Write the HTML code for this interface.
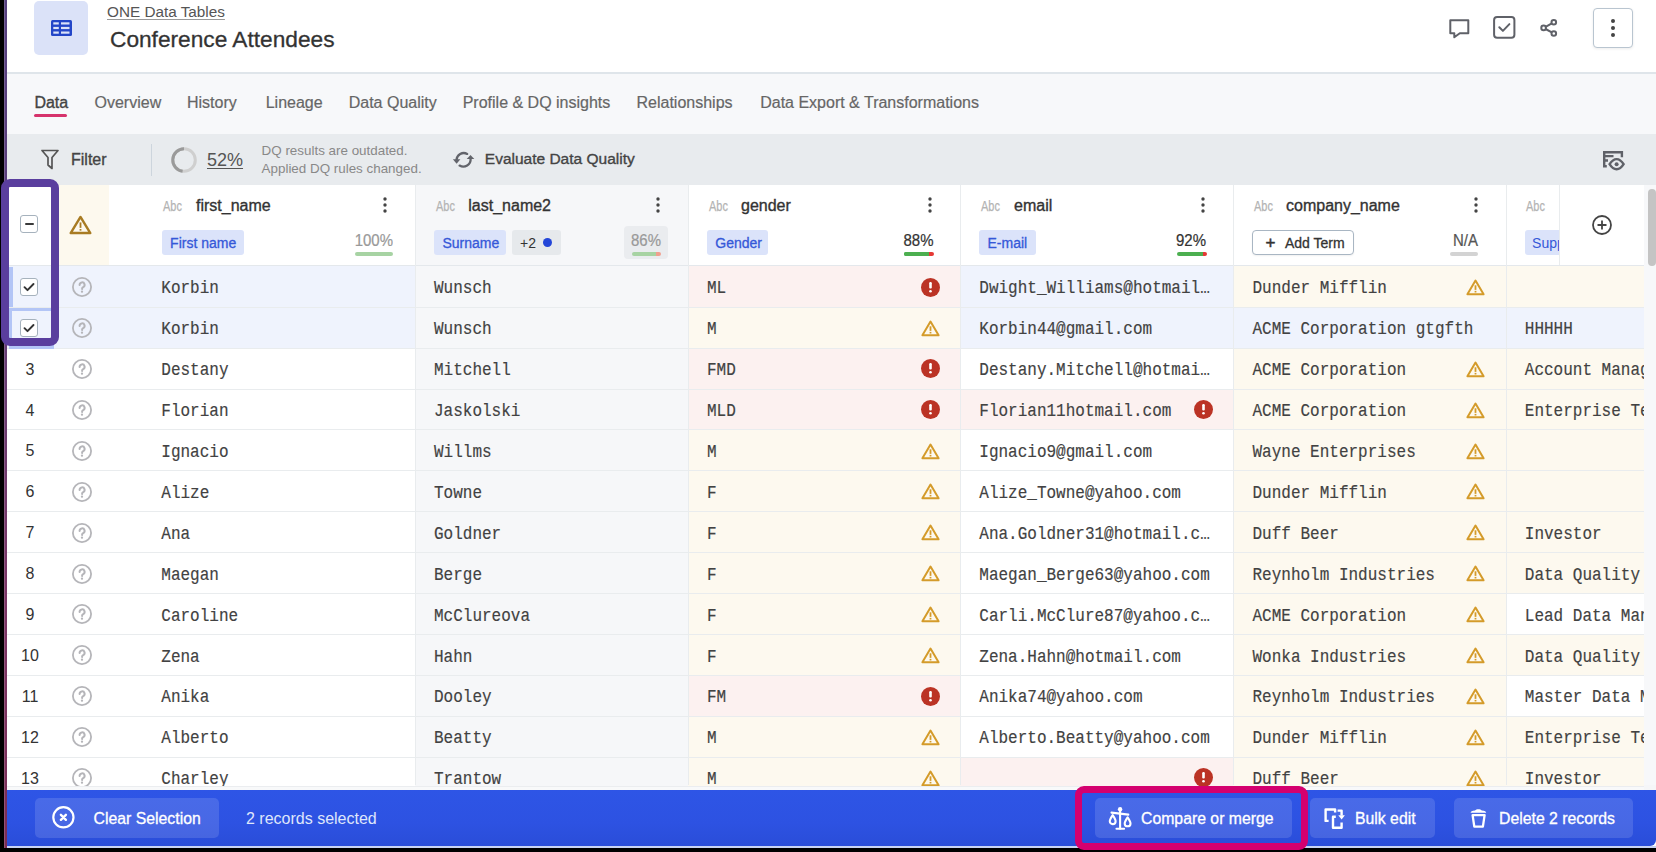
<!DOCTYPE html><html><head><meta charset="utf-8"><style>
*{margin:0;padding:0;box-sizing:border-box}
html,body{width:1656px;height:852px;overflow:hidden;background:#fff;font-family:'Liberation Sans', sans-serif}
.t{position:absolute;white-space:nowrap}
.r{position:absolute}
svg{position:absolute;overflow:visible}
</style></head><body><div class="r" style="left:0px;top:0px;width:1656px;height:72px;background:#fff"></div>
<div class="r" style="left:34px;top:1px;width:54px;height:54px;background:#dbe2f8;border-radius:5px"></div>
<svg style="left:51px;top:20px" width="21" height="16" viewBox="0 0 21 16"><rect x="0" y="0" width="21" height="16" rx="1.5" fill="#2346c8"/><g fill="#dbe2f8"><rect x="2.3" y="2.3" width="5.5" height="2.2"/><rect x="10" y="2.3" width="8.5" height="2.2"/><rect x="2.3" y="6.9" width="5.5" height="2.2"/><rect x="10" y="6.9" width="8.5" height="2.2"/><rect x="2.3" y="11.5" width="5.5" height="2.2"/><rect x="10" y="11.5" width="8.5" height="2.2"/></g></svg>
<div class="t" style="left:107px;top:4.27px;font-size:15.3px;line-height:15.3px;color:#555;font-weight:normal;font-family:'Liberation Sans', sans-serif;text-decoration:underline;text-decoration-color:#999;text-underline-offset:2px">ONE Data Tables</div>
<div class="t" style="left:110px;top:27.86px;font-size:22.7px;line-height:22.7px;color:#333;font-weight:normal;font-family:'Liberation Sans', sans-serif;-webkit-text-stroke:.3px #333">Conference Attendees</div>
<svg style="left:1448px;top:18px" width="22" height="22" viewBox="0 0 22 22"><path d="M2.3 2.3h18v13h-8.5l-5.5 4v-4h-4z" fill="none" stroke="#5f6168" stroke-width="2" stroke-linejoin="round"/></svg>
<svg style="left:1493px;top:16px" width="23" height="23" viewBox="0 0 23 23"><rect x="1.1" y="1.1" width="20.3" height="20.6" rx="3" fill="none" stroke="#5f6168" stroke-width="2"/><path d="M6.3 11.3l3.6 3.6 6.5-6.8" fill="none" stroke="#5f6168" stroke-width="2" stroke-linecap="round" stroke-linejoin="round"/></svg>
<svg style="left:1540px;top:18px" width="20" height="22" viewBox="0 0 20 22"><g fill="none" stroke="#5f6168" stroke-width="2"><circle cx="13.8" cy="4.2" r="2.3"/><circle cx="3.6" cy="9.9" r="2.3"/><circle cx="13.8" cy="15.5" r="2.3"/><path d="M5.6 8.8l6.2-3.5M5.6 11l6.2 3.4"/></g></svg>
<div class="r" style="left:1593px;top:8px;width:40px;height:40px;border:1.5px solid #b9c5d0;border-radius:4px;background:#fff;box-shadow:0 1px 3px rgba(0,0,0,.08)"></div>
<svg style="left:1610px;top:18px" width="6" height="20" viewBox="0 0 6 20"><g fill="#444"><circle cx="3" cy="3" r="2"/><circle cx="3" cy="10" r="2"/><circle cx="3" cy="17" r="2"/></g></svg>
<div class="r" style="left:0px;top:72px;width:1656px;height:2px;background:#dfe5ea"></div>
<div class="r" style="left:0px;top:74px;width:1656px;height:60px;background:#f7f8fa"></div>
<div class="t" style="left:34.4px;top:95.20px;font-size:16px;line-height:16px;color:#444;font-weight:normal;font-family:'Liberation Sans', sans-serif;-webkit-text-stroke:.35px #444">Data</div>
<div class="t" style="left:94.5px;top:95.20px;font-size:16px;line-height:16px;color:#666;font-weight:normal;font-family:'Liberation Sans', sans-serif;-webkit-text-stroke:.2px #666">Overview</div>
<div class="t" style="left:187px;top:95.20px;font-size:16px;line-height:16px;color:#666;font-weight:normal;font-family:'Liberation Sans', sans-serif;-webkit-text-stroke:.2px #666">History</div>
<div class="t" style="left:265.7px;top:95.20px;font-size:16px;line-height:16px;color:#666;font-weight:normal;font-family:'Liberation Sans', sans-serif;-webkit-text-stroke:.2px #666">Lineage</div>
<div class="t" style="left:348.7px;top:95.20px;font-size:16px;line-height:16px;color:#666;font-weight:normal;font-family:'Liberation Sans', sans-serif;-webkit-text-stroke:.2px #666">Data Quality</div>
<div class="t" style="left:462.7px;top:95.20px;font-size:16px;line-height:16px;color:#666;font-weight:normal;font-family:'Liberation Sans', sans-serif;-webkit-text-stroke:.2px #666">Profile &amp; DQ insights</div>
<div class="t" style="left:636.5px;top:95.20px;font-size:16px;line-height:16px;color:#666;font-weight:normal;font-family:'Liberation Sans', sans-serif;-webkit-text-stroke:.2px #666">Relationships</div>
<div class="t" style="left:760.2px;top:95.20px;font-size:16px;line-height:16px;color:#666;font-weight:normal;font-family:'Liberation Sans', sans-serif;-webkit-text-stroke:.2px #666">Data Export &amp; Transformations</div>
<div class="r" style="left:34px;top:114px;width:33px;height:2.5px;background:#d6336c;border-radius:2px"></div>
<div class="r" style="left:0px;top:134px;width:1656px;height:51px;background:#e8ebee"></div>
<svg style="left:41px;top:149px" width="18" height="21" viewBox="0 0 18 21"><path d="M1 1.5h16l-6 7v11l-4-3.5v-7.5z" fill="none" stroke="#555" stroke-width="1.7" stroke-linejoin="round"/></svg>
<div class="t" style="left:71px;top:152.20px;font-size:16px;line-height:16px;color:#444;font-weight:normal;font-family:'Liberation Sans', sans-serif;-webkit-text-stroke:.35px #444">Filter</div>
<div class="r" style="left:151px;top:144px;width:1.2px;height:32px;background:#cdd5dd"></div>
<svg style="left:171px;top:147px" width="26" height="26" viewBox="0 0 26 26"><circle cx="13" cy="13" r="11.3" fill="none" stroke="#cfcfcf" stroke-width="3"/><path d="M13 1.7 A11.3 11.3 0 0 0 11.6 24.2" fill="none" stroke="#9a9a9a" stroke-width="3"/></svg>
<div class="t" style="left:207px;top:151.28px;font-size:18px;line-height:18px;color:#555;font-weight:normal;font-family:'Liberation Sans', sans-serif;text-decoration:underline;text-underline-offset:2px">52%</div>
<div class="t" style="left:261.6px;top:143.81px;font-size:13.4px;line-height:13.4px;color:#888;font-weight:normal;font-family:'Liberation Sans', sans-serif;">DQ results are outdated.</div>
<div class="t" style="left:261.6px;top:161.91px;font-size:13.4px;line-height:13.4px;color:#888;font-weight:normal;font-family:'Liberation Sans', sans-serif;">Applied DQ rules changed.</div>
<svg style="left:448px;top:145px" width="32" height="28" viewBox="0 0 32 28"><g fill="none" stroke="#62646b" stroke-width="2.3" stroke-linecap="round"><path d="M19.2 8.9A7.3 7.3 0 0 0 8.5 15"/><path d="M11.6 20.6A7.3 7.3 0 0 0 22.6 13.8"/></g><g fill="#62646b"><path d="M4.9 14.3L12.4 14.3L8.6 18.8Z"/><path d="M18.7 14L26.3 14L22.5 9.9Z"/></g></svg>
<div class="t" style="left:484.8px;top:151.41px;font-size:15.5px;line-height:15.5px;color:#444;font-weight:normal;font-family:'Liberation Sans', sans-serif;-webkit-text-stroke:.35px #444">Evaluate Data Quality</div>
<svg style="left:1596px;top:144px" width="36" height="32" viewBox="0 0 36 32"><g fill="none" stroke="#5f6168" stroke-width="2.4"><path d="M10.8 22.3H8.2V8.2H25.9V13.3"/><path d="M8.2 12.1H17.5M8.2 16.5H12"/><path d="M13.6 20.2C16 16.3 18.4 15.1 20.6 15.1C22.8 15.1 25.2 16.3 27.6 20.2C25.2 24.1 22.8 25.3 20.6 25.3C18.4 25.3 16 24.1 13.6 20.2Z"/></g><circle cx="20.6" cy="20.2" r="2" fill="#5f6168"/></svg>
<div class="r" style="left:0px;top:185px;width:1656px;height:605px;background:#f5f6f8"></div>
<div class="r" style="left:7px;top:785px;width:1637px;height:2px;background:#ebedf0"></div>
<div class="r" style="left:7px;top:787px;width:1637px;height:3px;background:#f8f9fa"></div>
<div class="r" style="left:0;top:0;width:1644px;height:785.5px;overflow:hidden">
<div class="r" style="left:7px;top:185px;width:1637px;height:80px;background:#fff"></div>
<div class="r" style="left:59px;top:185px;width:50px;height:80px;background:#fdf9ee"></div>
<div class="r" style="left:415px;top:185px;width:273px;height:80px;background:#f6f7f9"></div>
<div class="r" style="left:0px;top:265px;width:1656px;height:2px;background:#e4e8ec"></div>
<div class="r" style="left:20px;top:215px;width:18px;height:18px;border:1.8px solid #a6b2bd;border-radius:3px;background:#fff"></div>
<div class="r" style="left:24.5px;top:222.7px;width:9px;height:2.6px;background:#3a3a3a;border-radius:1.3px"></div>
<svg style="left:69.0px;top:215.25px" width="23" height="19.5" viewBox="0 0 23 19.5"><path d="M11.5 1.92 L21.32 18.06 L1.68 18.06 Z" fill="none" stroke="#a87b22" stroke-width="2.4" stroke-linejoin="round"/><rect x="10.6" y="7.41" width="1.8" height="5.460000000000001" fill="#a87b22"/><rect x="10.6" y="14.04" width="1.8" height="1.6" fill="#a87b22"/></svg>
<div class="t" style="left:163px;top:198.97px;font-size:14.8px;line-height:14.8px;color:#b3b3b3;font-weight:normal;font-family:'Liberation Sans', sans-serif;transform:scaleX(.74);transform-origin:left;-webkit-text-stroke:.25px #b3b3b3">Abc</div>
<div class="t" style="left:196px;top:197.50px;font-size:16px;line-height:16px;color:#333;font-weight:normal;font-family:'Liberation Sans', sans-serif;-webkit-text-stroke:.35px #333">first_name</div>
<svg style="left:382px;top:197px" width="6" height="16" viewBox="0 0 6 16"><g fill="#444"><circle cx="3" cy="2" r="1.7"/><circle cx="3" cy="8" r="1.7"/><circle cx="3" cy="14" r="1.7"/></g></svg>
<div class="t" style="left:436px;top:198.97px;font-size:14.8px;line-height:14.8px;color:#b3b3b3;font-weight:normal;font-family:'Liberation Sans', sans-serif;transform:scaleX(.74);transform-origin:left;-webkit-text-stroke:.25px #b3b3b3">Abc</div>
<div class="t" style="left:468.3px;top:197.50px;font-size:16px;line-height:16px;color:#333;font-weight:normal;font-family:'Liberation Sans', sans-serif;-webkit-text-stroke:.35px #333">last_name2</div>
<svg style="left:655px;top:197px" width="6" height="16" viewBox="0 0 6 16"><g fill="#444"><circle cx="3" cy="2" r="1.7"/><circle cx="3" cy="8" r="1.7"/><circle cx="3" cy="14" r="1.7"/></g></svg>
<div class="t" style="left:709px;top:198.97px;font-size:14.8px;line-height:14.8px;color:#b3b3b3;font-weight:normal;font-family:'Liberation Sans', sans-serif;transform:scaleX(.74);transform-origin:left;-webkit-text-stroke:.25px #b3b3b3">Abc</div>
<div class="t" style="left:741px;top:197.50px;font-size:16px;line-height:16px;color:#333;font-weight:normal;font-family:'Liberation Sans', sans-serif;-webkit-text-stroke:.35px #333">gender</div>
<svg style="left:927.4px;top:197px" width="6" height="16" viewBox="0 0 6 16"><g fill="#444"><circle cx="3" cy="2" r="1.7"/><circle cx="3" cy="8" r="1.7"/><circle cx="3" cy="14" r="1.7"/></g></svg>
<div class="t" style="left:981px;top:198.97px;font-size:14.8px;line-height:14.8px;color:#b3b3b3;font-weight:normal;font-family:'Liberation Sans', sans-serif;transform:scaleX(.74);transform-origin:left;-webkit-text-stroke:.25px #b3b3b3">Abc</div>
<div class="t" style="left:1014px;top:197.50px;font-size:16px;line-height:16px;color:#333;font-weight:normal;font-family:'Liberation Sans', sans-serif;-webkit-text-stroke:.35px #333">email</div>
<svg style="left:1200px;top:197px" width="6" height="16" viewBox="0 0 6 16"><g fill="#444"><circle cx="3" cy="2" r="1.7"/><circle cx="3" cy="8" r="1.7"/><circle cx="3" cy="14" r="1.7"/></g></svg>
<div class="t" style="left:1253.7px;top:198.97px;font-size:14.8px;line-height:14.8px;color:#b3b3b3;font-weight:normal;font-family:'Liberation Sans', sans-serif;transform:scaleX(.74);transform-origin:left;-webkit-text-stroke:.25px #b3b3b3">Abc</div>
<div class="t" style="left:1286px;top:197.50px;font-size:16px;line-height:16px;color:#333;font-weight:normal;font-family:'Liberation Sans', sans-serif;-webkit-text-stroke:.35px #333">company_name</div>
<svg style="left:1472.7px;top:197px" width="6" height="16" viewBox="0 0 6 16"><g fill="#444"><circle cx="3" cy="2" r="1.7"/><circle cx="3" cy="8" r="1.7"/><circle cx="3" cy="14" r="1.7"/></g></svg>
<div class="t" style="left:1526px;top:198.97px;font-size:14.8px;line-height:14.8px;color:#b3b3b3;font-weight:normal;font-family:'Liberation Sans', sans-serif;transform:scaleX(.74);transform-origin:left;-webkit-text-stroke:.25px #b3b3b3">Abc</div>
<div class="r" style="left:161.6px;top:230px;width:82.4px;height:24.5px;background:#dbe3fa;border-radius:3px"></div>
<div class="t" style="left:170.1px;top:235.93px;font-size:14px;line-height:14px;color:#3558d8;font-weight:normal;font-family:'Liberation Sans', sans-serif;-webkit-text-stroke:.3px #3558d8">First name</div>
<div class="t" style="left:333px;top:233.11px;width:60px;text-align:right;font-size:15px;line-height:15px;color:#999;font-family:'Liberation Sans', sans-serif;-webkit-text-stroke:.2px #999;transform:scaleY(1.13);transform-origin:0 12.2px">100%</div>
<div class="r" style="left:354.5px;top:252px;width:38.5px;height:4px;background:#a7d3a3;border-radius:2px"></div>
<div class="r" style="left:434px;top:230.4px;width:72px;height:24.5px;background:#dbe3fa;border-radius:3px"></div>
<div class="t" style="left:442.5px;top:236.33px;font-size:14px;line-height:14px;color:#3558d8;font-weight:normal;font-family:'Liberation Sans', sans-serif;-webkit-text-stroke:.3px #3558d8">Surname</div>
<div class="r" style="left:511.6px;top:230.4px;width:49px;height:24.5px;background:#e6e9ec;border-radius:3px"></div>
<div class="t" style="left:520px;top:236.12px;font-size:14px;line-height:14px;color:#333;font-weight:normal;font-family:'Liberation Sans', sans-serif;">+2</div>
<div class="r" style="left:542.5px;top:238px;width:9px;height:9px;border-radius:50%;background:#2346d8"></div>
<div class="r" style="left:624px;top:226px;width:44px;height:33px;background:#eaecef;border-radius:4px"></div>
<div class="t" style="left:601px;top:233.11px;width:60px;text-align:right;font-size:15px;line-height:15px;color:#999;font-family:'Liberation Sans', sans-serif;-webkit-text-stroke:.2px #999;transform:scaleY(1.13);transform-origin:0 12.2px">86%</div>
<div class="r" style="left:631.5px;top:251.5px;width:24.5px;height:4px;background:#a7d3a3;border-radius:2px 0 0 2px"></div>
<div class="r" style="left:656px;top:251.5px;width:5px;height:4px;background:#f0a08f;border-radius:0 2px 2px 0"></div>
<div class="r" style="left:706.8px;top:230.4px;width:61.5px;height:24.5px;background:#dbe3fa;border-radius:3px"></div>
<div class="t" style="left:715.3px;top:236.33px;font-size:14px;line-height:14px;color:#3558d8;font-weight:normal;font-family:'Liberation Sans', sans-serif;-webkit-text-stroke:.3px #3558d8">Gender</div>
<div class="t" style="left:873.5px;top:233.11px;width:60px;text-align:right;font-size:15px;line-height:15px;color:#333;font-family:'Liberation Sans', sans-serif;-webkit-text-stroke:.2px #333;transform:scaleY(1.13);transform-origin:0 12.2px">88%</div>
<div class="r" style="left:904px;top:251.5px;width:24.5px;height:4px;background:#4caf50;border-radius:2px 0 0 2px"></div>
<div class="r" style="left:903.5px;top:251.5px;width:25px;height:4px;background:#4caf50;border-radius:2px 0 0 2px"></div>
<div class="r" style="left:928.5px;top:251.5px;width:5px;height:4px;background:#e53935;border-radius:0 2px 2px 0"></div>
<div class="r" style="left:979px;top:230.4px;width:57px;height:24.5px;background:#dbe3fa;border-radius:3px"></div>
<div class="t" style="left:987.5px;top:236.33px;font-size:14px;line-height:14px;color:#3558d8;font-weight:normal;font-family:'Liberation Sans', sans-serif;-webkit-text-stroke:.3px #3558d8">E-mail</div>
<div class="t" style="left:1146px;top:233.11px;width:60px;text-align:right;font-size:15px;line-height:15px;color:#333;font-family:'Liberation Sans', sans-serif;-webkit-text-stroke:.2px #333;transform:scaleY(1.13);transform-origin:0 12.2px">92%</div>
<div class="r" style="left:1177px;top:251.5px;width:26px;height:4px;background:#4caf50;border-radius:2px 0 0 2px"></div>
<div class="r" style="left:1203px;top:251.5px;width:3.5px;height:4px;background:#e53935;border-radius:0 2px 2px 0"></div>
<div class="r" style="left:1252.4px;top:230px;width:101.6px;height:24.6px;border:1.7px solid #a9b6c3;border-radius:4px;background:#fff;box-shadow:0 1px 2px rgba(0,0,0,.06)"></div>
<div class="t" style="left:1265.5px;top:233.69px;font-size:17px;line-height:17px;color:#333;font-weight:normal;font-family:'Liberation Sans', sans-serif;-webkit-text-stroke:.5px #333">+</div>
<div class="t" style="left:1285px;top:236.12px;font-size:14px;line-height:14px;color:#333;font-weight:normal;font-family:'Liberation Sans', sans-serif;-webkit-text-stroke:.3px #333">Add Term</div>
<div class="t" style="left:1418px;top:233.11px;width:60px;text-align:right;font-size:15px;line-height:15px;color:#555;font-family:'Liberation Sans', sans-serif;-webkit-text-stroke:.2px #555;transform:scaleY(1.13);transform-origin:0 12.2px">N/A</div>
<div class="r" style="left:1450px;top:252px;width:28px;height:4px;background:#d3d3d3;border-radius:2px"></div>
<div class="r" style="left:1524.6px;top:230.4px;width:34.4px;height:24.5px;overflow:hidden"><div class="r" style="left:0;top:0;width:70px;height:24.5px;background:#dbe3fa;border-radius:3px"></div><div class="t" style="left:7.5px;top:5.15px;font-size:14px;line-height:14px;color:#3558d8;font-family:'Liberation Sans', sans-serif">Supplier</div></div>
<div class="r" style="left:1559px;top:185px;width:85px;height:80px;background:#fff;border-left:1px solid #e9ecee"></div>
<svg style="left:1592px;top:214.5px" width="20" height="20" viewBox="0 0 20 20"><g fill="none" stroke="#444" stroke-width="1.8"><circle cx="10" cy="10" r="9"/><path d="M10 5.5v9M5.5 10h9"/></g></svg>
<div class="r" style="left:7px;top:266.4px;width:1637px;height:40.9px;background:#eff3fd"></div>
<div class="r" style="left:415px;top:266.4px;width:273px;height:40.9px;background:#f6f7f9"></div>
<div class="r" style="left:688px;top:266.4px;width:272px;height:40.9px;background:#fcf1f0"></div>
<div class="r" style="left:960px;top:266.4px;width:273px;height:40.9px;background:#eff3fd"></div>
<div class="r" style="left:1233px;top:266.4px;width:273px;height:40.9px;background:#fdf9ef"></div>
<div class="r" style="left:1506px;top:266.4px;width:138px;height:40.9px;background:#fdf9ef"></div>
<div class="r" style="left:20px;top:278.2px;width:18px;height:18px;border:1.8px solid #a6b2bd;border-radius:3px;background:#fff"></div>
<svg style="left:20px;top:278.2px" width="18" height="18" viewBox="0 0 18 18"><path d="M4.5 9.2l3 3 6-6.2" fill="none" stroke="#333" stroke-width="1.9" stroke-linecap="round" stroke-linejoin="round"/></svg>
<svg style="left:71.8px;top:277.2px" width="20" height="20" viewBox="0 0 20 20"><circle cx="10" cy="10" r="9.1" fill="none" stroke="#b5b5b9" stroke-width="1.8"/><path d="M7.6 7.9a2.5 2.5 0 1 1 3.6 2.2c-.7.4-1.1.8-1.1 1.6v.3" fill="none" stroke="#b5b5b9" stroke-width="2" stroke-linecap="round"/><circle cx="10" cy="14.7" r="1.15" fill="#b5b5b9"/></svg>
<div class="t" style="left:161.3px;top:281.40px;font-size:16px;line-height:16px;color:#424242;font-weight:normal;font-family:'Liberation Mono', monospace;transform:scaleY(1.1);transform-origin:0 12px;-webkit-text-stroke:.15px #424242">Korbin</div>
<div class="t" style="left:434px;top:281.40px;font-size:16px;line-height:16px;color:#424242;font-weight:normal;font-family:'Liberation Mono', monospace;transform:scaleY(1.1);transform-origin:0 12px;-webkit-text-stroke:.15px #424242">Wunsch</div>
<div class="t" style="left:707px;top:281.40px;font-size:16px;line-height:16px;color:#424242;font-weight:normal;font-family:'Liberation Mono', monospace;transform:scaleY(1.1);transform-origin:0 12px;-webkit-text-stroke:.15px #424242">ML</div>
<svg style="left:920.9px;top:277.59999999999997px" width="19" height="19" viewBox="0 0 19 19"><circle cx="9.5" cy="9.5" r="9.5" fill="#bb3325"/><rect x="8.2" y="4.1" width="2.6" height="6.4" rx="1.1" fill="#fff"/><circle cx="9.5" cy="13.3" r="1.3" fill="#fff"/></svg>
<div class="t" style="left:979.3px;top:281.40px;font-size:16px;line-height:16px;color:#424242;font-weight:normal;font-family:'Liberation Mono', monospace;transform:scaleY(1.1);transform-origin:0 12px;-webkit-text-stroke:.15px #424242">Dwight_Williams@hotmail…</div>
<div class="t" style="left:1252.5px;top:281.40px;font-size:16px;line-height:16px;color:#424242;font-weight:normal;font-family:'Liberation Mono', monospace;transform:scaleY(1.1);transform-origin:0 12px;-webkit-text-stroke:.15px #424242">Dunder Mifflin</div>
<svg style="left:1466.0px;top:278.95px" width="19" height="16.5" viewBox="0 0 19 16.5"><path d="M9.5 1.6 L17.6 15.3 L1.4 15.3 Z" fill="none" stroke="#d49b2a" stroke-width="2" stroke-linejoin="round"/><rect x="8.6" y="6.2700000000000005" width="1.8" height="4.62" fill="#d49b2a"/><rect x="8.6" y="11.879999999999999" width="1.8" height="1.6" fill="#d49b2a"/></svg>
<div class="t" style="left:1524.8px;top:281.40px;font-size:16px;line-height:16px;color:#424242;font-weight:normal;font-family:'Liberation Mono', monospace;transform:scaleY(1.1);transform-origin:0 12px;-webkit-text-stroke:.15px #424242"></div>
<div class="r" style="left:7px;top:307.3px;width:1637px;height:40.9px;background:#eff3fd"></div>
<div class="r" style="left:415px;top:307.3px;width:273px;height:40.9px;background:#f6f7f9"></div>
<div class="r" style="left:688px;top:307.3px;width:272px;height:40.9px;background:#fdf9ef"></div>
<div class="r" style="left:960px;top:307.3px;width:273px;height:40.9px;background:#eff3fd"></div>
<div class="r" style="left:1233px;top:307.3px;width:273px;height:40.9px;background:#eff3fd"></div>
<div class="r" style="left:1506px;top:307.3px;width:138px;height:40.9px;background:#eff3fd"></div>
<div class="r" style="left:20px;top:319.1px;width:18px;height:18px;border:1.8px solid #a6b2bd;border-radius:3px;background:#fff"></div>
<svg style="left:20px;top:319.1px" width="18" height="18" viewBox="0 0 18 18"><path d="M4.5 9.2l3 3 6-6.2" fill="none" stroke="#333" stroke-width="1.9" stroke-linecap="round" stroke-linejoin="round"/></svg>
<svg style="left:71.8px;top:318.1px" width="20" height="20" viewBox="0 0 20 20"><circle cx="10" cy="10" r="9.1" fill="none" stroke="#b5b5b9" stroke-width="1.8"/><path d="M7.6 7.9a2.5 2.5 0 1 1 3.6 2.2c-.7.4-1.1.8-1.1 1.6v.3" fill="none" stroke="#b5b5b9" stroke-width="2" stroke-linecap="round"/><circle cx="10" cy="14.7" r="1.15" fill="#b5b5b9"/></svg>
<div class="t" style="left:161.3px;top:322.30px;font-size:16px;line-height:16px;color:#424242;font-weight:normal;font-family:'Liberation Mono', monospace;transform:scaleY(1.1);transform-origin:0 12px;-webkit-text-stroke:.15px #424242">Korbin</div>
<div class="t" style="left:434px;top:322.30px;font-size:16px;line-height:16px;color:#424242;font-weight:normal;font-family:'Liberation Mono', monospace;transform:scaleY(1.1);transform-origin:0 12px;-webkit-text-stroke:.15px #424242">Wunsch</div>
<div class="t" style="left:707px;top:322.30px;font-size:16px;line-height:16px;color:#424242;font-weight:normal;font-family:'Liberation Mono', monospace;transform:scaleY(1.1);transform-origin:0 12px;-webkit-text-stroke:.15px #424242">M</div>
<svg style="left:920.8px;top:319.85px" width="19" height="16.5" viewBox="0 0 19 16.5"><path d="M9.5 1.6 L17.6 15.3 L1.4 15.3 Z" fill="none" stroke="#d49b2a" stroke-width="2" stroke-linejoin="round"/><rect x="8.6" y="6.2700000000000005" width="1.8" height="4.62" fill="#d49b2a"/><rect x="8.6" y="11.879999999999999" width="1.8" height="1.6" fill="#d49b2a"/></svg>
<div class="t" style="left:979.3px;top:322.30px;font-size:16px;line-height:16px;color:#424242;font-weight:normal;font-family:'Liberation Mono', monospace;transform:scaleY(1.1);transform-origin:0 12px;-webkit-text-stroke:.15px #424242">Korbin44@gmail.com</div>
<div class="t" style="left:1252.5px;top:322.30px;font-size:16px;line-height:16px;color:#424242;font-weight:normal;font-family:'Liberation Mono', monospace;transform:scaleY(1.1);transform-origin:0 12px;-webkit-text-stroke:.15px #424242">ACME Corporation gtgfth</div>
<div class="t" style="left:1524.8px;top:322.30px;font-size:16px;line-height:16px;color:#424242;font-weight:normal;font-family:'Liberation Mono', monospace;transform:scaleY(1.1);transform-origin:0 12px;-webkit-text-stroke:.15px #424242">HHHHH</div>
<div class="r" style="left:7px;top:348.2px;width:1637px;height:40.9px;background:#fff"></div>
<div class="r" style="left:415px;top:348.2px;width:273px;height:40.9px;background:#f6f7f9"></div>
<div class="r" style="left:688px;top:348.2px;width:272px;height:40.9px;background:#fcf1f0"></div>
<div class="r" style="left:960px;top:348.2px;width:273px;height:40.9px;background:#fff"></div>
<div class="r" style="left:1233px;top:348.2px;width:273px;height:40.9px;background:#fdf9ef"></div>
<div class="r" style="left:1506px;top:348.2px;width:138px;height:40.9px;background:#fdf9ef"></div>
<div class="t" style="left:9px;top:361.66px;width:42px;text-align:center;font-size:16px;line-height:16px;color:#333;font-family:'Liberation Sans', sans-serif">3</div>
<svg style="left:71.8px;top:359.0px" width="20" height="20" viewBox="0 0 20 20"><circle cx="10" cy="10" r="9.1" fill="none" stroke="#b5b5b9" stroke-width="1.8"/><path d="M7.6 7.9a2.5 2.5 0 1 1 3.6 2.2c-.7.4-1.1.8-1.1 1.6v.3" fill="none" stroke="#b5b5b9" stroke-width="2" stroke-linecap="round"/><circle cx="10" cy="14.7" r="1.15" fill="#b5b5b9"/></svg>
<div class="t" style="left:161.3px;top:363.20px;font-size:16px;line-height:16px;color:#424242;font-weight:normal;font-family:'Liberation Mono', monospace;transform:scaleY(1.1);transform-origin:0 12px;-webkit-text-stroke:.15px #424242">Destany</div>
<div class="t" style="left:434px;top:363.20px;font-size:16px;line-height:16px;color:#424242;font-weight:normal;font-family:'Liberation Mono', monospace;transform:scaleY(1.1);transform-origin:0 12px;-webkit-text-stroke:.15px #424242">Mitchell</div>
<div class="t" style="left:707px;top:363.20px;font-size:16px;line-height:16px;color:#424242;font-weight:normal;font-family:'Liberation Mono', monospace;transform:scaleY(1.1);transform-origin:0 12px;-webkit-text-stroke:.15px #424242">FMD</div>
<svg style="left:920.9px;top:359.4px" width="19" height="19" viewBox="0 0 19 19"><circle cx="9.5" cy="9.5" r="9.5" fill="#bb3325"/><rect x="8.2" y="4.1" width="2.6" height="6.4" rx="1.1" fill="#fff"/><circle cx="9.5" cy="13.3" r="1.3" fill="#fff"/></svg>
<div class="t" style="left:979.3px;top:363.20px;font-size:16px;line-height:16px;color:#424242;font-weight:normal;font-family:'Liberation Mono', monospace;transform:scaleY(1.1);transform-origin:0 12px;-webkit-text-stroke:.15px #424242">Destany.Mitchell@hotmai…</div>
<div class="t" style="left:1252.5px;top:363.20px;font-size:16px;line-height:16px;color:#424242;font-weight:normal;font-family:'Liberation Mono', monospace;transform:scaleY(1.1);transform-origin:0 12px;-webkit-text-stroke:.15px #424242">ACME Corporation</div>
<svg style="left:1466.0px;top:360.75px" width="19" height="16.5" viewBox="0 0 19 16.5"><path d="M9.5 1.6 L17.6 15.3 L1.4 15.3 Z" fill="none" stroke="#d49b2a" stroke-width="2" stroke-linejoin="round"/><rect x="8.6" y="6.2700000000000005" width="1.8" height="4.62" fill="#d49b2a"/><rect x="8.6" y="11.879999999999999" width="1.8" height="1.6" fill="#d49b2a"/></svg>
<div class="t" style="left:1524.8px;top:363.20px;font-size:16px;line-height:16px;color:#424242;font-weight:normal;font-family:'Liberation Mono', monospace;transform:scaleY(1.1);transform-origin:0 12px;-webkit-text-stroke:.15px #424242">Account Manager</div>
<div class="r" style="left:7px;top:389.1px;width:1637px;height:40.9px;background:#fff"></div>
<div class="r" style="left:415px;top:389.1px;width:273px;height:40.9px;background:#f6f7f9"></div>
<div class="r" style="left:688px;top:389.1px;width:272px;height:40.9px;background:#fcf1f0"></div>
<div class="r" style="left:960px;top:389.1px;width:273px;height:40.9px;background:#fcf1f0"></div>
<div class="r" style="left:1233px;top:389.1px;width:273px;height:40.9px;background:#fdf9ef"></div>
<div class="r" style="left:1506px;top:389.1px;width:138px;height:40.9px;background:#fdf9ef"></div>
<div class="t" style="left:9px;top:402.56px;width:42px;text-align:center;font-size:16px;line-height:16px;color:#333;font-family:'Liberation Sans', sans-serif">4</div>
<svg style="left:71.8px;top:399.90000000000003px" width="20" height="20" viewBox="0 0 20 20"><circle cx="10" cy="10" r="9.1" fill="none" stroke="#b5b5b9" stroke-width="1.8"/><path d="M7.6 7.9a2.5 2.5 0 1 1 3.6 2.2c-.7.4-1.1.8-1.1 1.6v.3" fill="none" stroke="#b5b5b9" stroke-width="2" stroke-linecap="round"/><circle cx="10" cy="14.7" r="1.15" fill="#b5b5b9"/></svg>
<div class="t" style="left:161.3px;top:404.10px;font-size:16px;line-height:16px;color:#424242;font-weight:normal;font-family:'Liberation Mono', monospace;transform:scaleY(1.1);transform-origin:0 12px;-webkit-text-stroke:.15px #424242">Florian</div>
<div class="t" style="left:434px;top:404.10px;font-size:16px;line-height:16px;color:#424242;font-weight:normal;font-family:'Liberation Mono', monospace;transform:scaleY(1.1);transform-origin:0 12px;-webkit-text-stroke:.15px #424242">Jaskolski</div>
<div class="t" style="left:707px;top:404.10px;font-size:16px;line-height:16px;color:#424242;font-weight:normal;font-family:'Liberation Mono', monospace;transform:scaleY(1.1);transform-origin:0 12px;-webkit-text-stroke:.15px #424242">MLD</div>
<svg style="left:920.9px;top:400.3px" width="19" height="19" viewBox="0 0 19 19"><circle cx="9.5" cy="9.5" r="9.5" fill="#bb3325"/><rect x="8.2" y="4.1" width="2.6" height="6.4" rx="1.1" fill="#fff"/><circle cx="9.5" cy="13.3" r="1.3" fill="#fff"/></svg>
<div class="t" style="left:979.3px;top:404.10px;font-size:16px;line-height:16px;color:#424242;font-weight:normal;font-family:'Liberation Mono', monospace;transform:scaleY(1.1);transform-origin:0 12px;-webkit-text-stroke:.15px #424242">Florian11hotmail.com</div>
<svg style="left:1193.5px;top:400.3px" width="19" height="19" viewBox="0 0 19 19"><circle cx="9.5" cy="9.5" r="9.5" fill="#bb3325"/><rect x="8.2" y="4.1" width="2.6" height="6.4" rx="1.1" fill="#fff"/><circle cx="9.5" cy="13.3" r="1.3" fill="#fff"/></svg>
<div class="t" style="left:1252.5px;top:404.10px;font-size:16px;line-height:16px;color:#424242;font-weight:normal;font-family:'Liberation Mono', monospace;transform:scaleY(1.1);transform-origin:0 12px;-webkit-text-stroke:.15px #424242">ACME Corporation</div>
<svg style="left:1466.0px;top:401.65000000000003px" width="19" height="16.5" viewBox="0 0 19 16.5"><path d="M9.5 1.6 L17.6 15.3 L1.4 15.3 Z" fill="none" stroke="#d49b2a" stroke-width="2" stroke-linejoin="round"/><rect x="8.6" y="6.2700000000000005" width="1.8" height="4.62" fill="#d49b2a"/><rect x="8.6" y="11.879999999999999" width="1.8" height="1.6" fill="#d49b2a"/></svg>
<div class="t" style="left:1524.8px;top:404.10px;font-size:16px;line-height:16px;color:#424242;font-weight:normal;font-family:'Liberation Mono', monospace;transform:scaleY(1.1);transform-origin:0 12px;-webkit-text-stroke:.15px #424242">Enterprise Team</div>
<div class="r" style="left:7px;top:430.0px;width:1637px;height:40.9px;background:#fff"></div>
<div class="r" style="left:415px;top:430.0px;width:273px;height:40.9px;background:#f6f7f9"></div>
<div class="r" style="left:688px;top:430.0px;width:272px;height:40.9px;background:#fdf9ef"></div>
<div class="r" style="left:960px;top:430.0px;width:273px;height:40.9px;background:#fff"></div>
<div class="r" style="left:1233px;top:430.0px;width:273px;height:40.9px;background:#fdf9ef"></div>
<div class="r" style="left:1506px;top:430.0px;width:138px;height:40.9px;background:#fdf9ef"></div>
<div class="t" style="left:9px;top:443.46px;width:42px;text-align:center;font-size:16px;line-height:16px;color:#333;font-family:'Liberation Sans', sans-serif">5</div>
<svg style="left:71.8px;top:440.8px" width="20" height="20" viewBox="0 0 20 20"><circle cx="10" cy="10" r="9.1" fill="none" stroke="#b5b5b9" stroke-width="1.8"/><path d="M7.6 7.9a2.5 2.5 0 1 1 3.6 2.2c-.7.4-1.1.8-1.1 1.6v.3" fill="none" stroke="#b5b5b9" stroke-width="2" stroke-linecap="round"/><circle cx="10" cy="14.7" r="1.15" fill="#b5b5b9"/></svg>
<div class="t" style="left:161.3px;top:445.00px;font-size:16px;line-height:16px;color:#424242;font-weight:normal;font-family:'Liberation Mono', monospace;transform:scaleY(1.1);transform-origin:0 12px;-webkit-text-stroke:.15px #424242">Ignacio</div>
<div class="t" style="left:434px;top:445.00px;font-size:16px;line-height:16px;color:#424242;font-weight:normal;font-family:'Liberation Mono', monospace;transform:scaleY(1.1);transform-origin:0 12px;-webkit-text-stroke:.15px #424242">Willms</div>
<div class="t" style="left:707px;top:445.00px;font-size:16px;line-height:16px;color:#424242;font-weight:normal;font-family:'Liberation Mono', monospace;transform:scaleY(1.1);transform-origin:0 12px;-webkit-text-stroke:.15px #424242">M</div>
<svg style="left:920.8px;top:442.55px" width="19" height="16.5" viewBox="0 0 19 16.5"><path d="M9.5 1.6 L17.6 15.3 L1.4 15.3 Z" fill="none" stroke="#d49b2a" stroke-width="2" stroke-linejoin="round"/><rect x="8.6" y="6.2700000000000005" width="1.8" height="4.62" fill="#d49b2a"/><rect x="8.6" y="11.879999999999999" width="1.8" height="1.6" fill="#d49b2a"/></svg>
<div class="t" style="left:979.3px;top:445.00px;font-size:16px;line-height:16px;color:#424242;font-weight:normal;font-family:'Liberation Mono', monospace;transform:scaleY(1.1);transform-origin:0 12px;-webkit-text-stroke:.15px #424242">Ignacio9@gmail.com</div>
<div class="t" style="left:1252.5px;top:445.00px;font-size:16px;line-height:16px;color:#424242;font-weight:normal;font-family:'Liberation Mono', monospace;transform:scaleY(1.1);transform-origin:0 12px;-webkit-text-stroke:.15px #424242">Wayne Enterprises</div>
<svg style="left:1466.0px;top:442.55px" width="19" height="16.5" viewBox="0 0 19 16.5"><path d="M9.5 1.6 L17.6 15.3 L1.4 15.3 Z" fill="none" stroke="#d49b2a" stroke-width="2" stroke-linejoin="round"/><rect x="8.6" y="6.2700000000000005" width="1.8" height="4.62" fill="#d49b2a"/><rect x="8.6" y="11.879999999999999" width="1.8" height="1.6" fill="#d49b2a"/></svg>
<div class="t" style="left:1524.8px;top:445.00px;font-size:16px;line-height:16px;color:#424242;font-weight:normal;font-family:'Liberation Mono', monospace;transform:scaleY(1.1);transform-origin:0 12px;-webkit-text-stroke:.15px #424242"></div>
<div class="r" style="left:7px;top:470.9px;width:1637px;height:40.9px;background:#fff"></div>
<div class="r" style="left:415px;top:470.9px;width:273px;height:40.9px;background:#f6f7f9"></div>
<div class="r" style="left:688px;top:470.9px;width:272px;height:40.9px;background:#fdf9ef"></div>
<div class="r" style="left:960px;top:470.9px;width:273px;height:40.9px;background:#fff"></div>
<div class="r" style="left:1233px;top:470.9px;width:273px;height:40.9px;background:#fdf9ef"></div>
<div class="r" style="left:1506px;top:470.9px;width:138px;height:40.9px;background:#fdf9ef"></div>
<div class="t" style="left:9px;top:484.36px;width:42px;text-align:center;font-size:16px;line-height:16px;color:#333;font-family:'Liberation Sans', sans-serif">6</div>
<svg style="left:71.8px;top:481.7px" width="20" height="20" viewBox="0 0 20 20"><circle cx="10" cy="10" r="9.1" fill="none" stroke="#b5b5b9" stroke-width="1.8"/><path d="M7.6 7.9a2.5 2.5 0 1 1 3.6 2.2c-.7.4-1.1.8-1.1 1.6v.3" fill="none" stroke="#b5b5b9" stroke-width="2" stroke-linecap="round"/><circle cx="10" cy="14.7" r="1.15" fill="#b5b5b9"/></svg>
<div class="t" style="left:161.3px;top:485.90px;font-size:16px;line-height:16px;color:#424242;font-weight:normal;font-family:'Liberation Mono', monospace;transform:scaleY(1.1);transform-origin:0 12px;-webkit-text-stroke:.15px #424242">Alize</div>
<div class="t" style="left:434px;top:485.90px;font-size:16px;line-height:16px;color:#424242;font-weight:normal;font-family:'Liberation Mono', monospace;transform:scaleY(1.1);transform-origin:0 12px;-webkit-text-stroke:.15px #424242">Towne</div>
<div class="t" style="left:707px;top:485.90px;font-size:16px;line-height:16px;color:#424242;font-weight:normal;font-family:'Liberation Mono', monospace;transform:scaleY(1.1);transform-origin:0 12px;-webkit-text-stroke:.15px #424242">F</div>
<svg style="left:920.8px;top:483.45px" width="19" height="16.5" viewBox="0 0 19 16.5"><path d="M9.5 1.6 L17.6 15.3 L1.4 15.3 Z" fill="none" stroke="#d49b2a" stroke-width="2" stroke-linejoin="round"/><rect x="8.6" y="6.2700000000000005" width="1.8" height="4.62" fill="#d49b2a"/><rect x="8.6" y="11.879999999999999" width="1.8" height="1.6" fill="#d49b2a"/></svg>
<div class="t" style="left:979.3px;top:485.90px;font-size:16px;line-height:16px;color:#424242;font-weight:normal;font-family:'Liberation Mono', monospace;transform:scaleY(1.1);transform-origin:0 12px;-webkit-text-stroke:.15px #424242">Alize_Towne@yahoo.com</div>
<div class="t" style="left:1252.5px;top:485.90px;font-size:16px;line-height:16px;color:#424242;font-weight:normal;font-family:'Liberation Mono', monospace;transform:scaleY(1.1);transform-origin:0 12px;-webkit-text-stroke:.15px #424242">Dunder Mifflin</div>
<svg style="left:1466.0px;top:483.45px" width="19" height="16.5" viewBox="0 0 19 16.5"><path d="M9.5 1.6 L17.6 15.3 L1.4 15.3 Z" fill="none" stroke="#d49b2a" stroke-width="2" stroke-linejoin="round"/><rect x="8.6" y="6.2700000000000005" width="1.8" height="4.62" fill="#d49b2a"/><rect x="8.6" y="11.879999999999999" width="1.8" height="1.6" fill="#d49b2a"/></svg>
<div class="t" style="left:1524.8px;top:485.90px;font-size:16px;line-height:16px;color:#424242;font-weight:normal;font-family:'Liberation Mono', monospace;transform:scaleY(1.1);transform-origin:0 12px;-webkit-text-stroke:.15px #424242"></div>
<div class="r" style="left:7px;top:511.8px;width:1637px;height:40.9px;background:#fff"></div>
<div class="r" style="left:415px;top:511.8px;width:273px;height:40.9px;background:#f6f7f9"></div>
<div class="r" style="left:688px;top:511.8px;width:272px;height:40.9px;background:#fdf9ef"></div>
<div class="r" style="left:960px;top:511.8px;width:273px;height:40.9px;background:#fff"></div>
<div class="r" style="left:1233px;top:511.8px;width:273px;height:40.9px;background:#fdf9ef"></div>
<div class="r" style="left:1506px;top:511.8px;width:138px;height:40.9px;background:#fdf9ef"></div>
<div class="t" style="left:9px;top:525.26px;width:42px;text-align:center;font-size:16px;line-height:16px;color:#333;font-family:'Liberation Sans', sans-serif">7</div>
<svg style="left:71.8px;top:522.6px" width="20" height="20" viewBox="0 0 20 20"><circle cx="10" cy="10" r="9.1" fill="none" stroke="#b5b5b9" stroke-width="1.8"/><path d="M7.6 7.9a2.5 2.5 0 1 1 3.6 2.2c-.7.4-1.1.8-1.1 1.6v.3" fill="none" stroke="#b5b5b9" stroke-width="2" stroke-linecap="round"/><circle cx="10" cy="14.7" r="1.15" fill="#b5b5b9"/></svg>
<div class="t" style="left:161.3px;top:526.80px;font-size:16px;line-height:16px;color:#424242;font-weight:normal;font-family:'Liberation Mono', monospace;transform:scaleY(1.1);transform-origin:0 12px;-webkit-text-stroke:.15px #424242">Ana</div>
<div class="t" style="left:434px;top:526.80px;font-size:16px;line-height:16px;color:#424242;font-weight:normal;font-family:'Liberation Mono', monospace;transform:scaleY(1.1);transform-origin:0 12px;-webkit-text-stroke:.15px #424242">Goldner</div>
<div class="t" style="left:707px;top:526.80px;font-size:16px;line-height:16px;color:#424242;font-weight:normal;font-family:'Liberation Mono', monospace;transform:scaleY(1.1);transform-origin:0 12px;-webkit-text-stroke:.15px #424242">F</div>
<svg style="left:920.8px;top:524.35px" width="19" height="16.5" viewBox="0 0 19 16.5"><path d="M9.5 1.6 L17.6 15.3 L1.4 15.3 Z" fill="none" stroke="#d49b2a" stroke-width="2" stroke-linejoin="round"/><rect x="8.6" y="6.2700000000000005" width="1.8" height="4.62" fill="#d49b2a"/><rect x="8.6" y="11.879999999999999" width="1.8" height="1.6" fill="#d49b2a"/></svg>
<div class="t" style="left:979.3px;top:526.80px;font-size:16px;line-height:16px;color:#424242;font-weight:normal;font-family:'Liberation Mono', monospace;transform:scaleY(1.1);transform-origin:0 12px;-webkit-text-stroke:.15px #424242">Ana.Goldner31@hotmail.c…</div>
<div class="t" style="left:1252.5px;top:526.80px;font-size:16px;line-height:16px;color:#424242;font-weight:normal;font-family:'Liberation Mono', monospace;transform:scaleY(1.1);transform-origin:0 12px;-webkit-text-stroke:.15px #424242">Duff Beer</div>
<svg style="left:1466.0px;top:524.35px" width="19" height="16.5" viewBox="0 0 19 16.5"><path d="M9.5 1.6 L17.6 15.3 L1.4 15.3 Z" fill="none" stroke="#d49b2a" stroke-width="2" stroke-linejoin="round"/><rect x="8.6" y="6.2700000000000005" width="1.8" height="4.62" fill="#d49b2a"/><rect x="8.6" y="11.879999999999999" width="1.8" height="1.6" fill="#d49b2a"/></svg>
<div class="t" style="left:1524.8px;top:526.80px;font-size:16px;line-height:16px;color:#424242;font-weight:normal;font-family:'Liberation Mono', monospace;transform:scaleY(1.1);transform-origin:0 12px;-webkit-text-stroke:.15px #424242">Investor</div>
<div class="r" style="left:7px;top:552.7px;width:1637px;height:40.9px;background:#fff"></div>
<div class="r" style="left:415px;top:552.7px;width:273px;height:40.9px;background:#f6f7f9"></div>
<div class="r" style="left:688px;top:552.7px;width:272px;height:40.9px;background:#fdf9ef"></div>
<div class="r" style="left:960px;top:552.7px;width:273px;height:40.9px;background:#fff"></div>
<div class="r" style="left:1233px;top:552.7px;width:273px;height:40.9px;background:#fdf9ef"></div>
<div class="r" style="left:1506px;top:552.7px;width:138px;height:40.9px;background:#fdf9ef"></div>
<div class="t" style="left:9px;top:566.16px;width:42px;text-align:center;font-size:16px;line-height:16px;color:#333;font-family:'Liberation Sans', sans-serif">8</div>
<svg style="left:71.8px;top:563.5px" width="20" height="20" viewBox="0 0 20 20"><circle cx="10" cy="10" r="9.1" fill="none" stroke="#b5b5b9" stroke-width="1.8"/><path d="M7.6 7.9a2.5 2.5 0 1 1 3.6 2.2c-.7.4-1.1.8-1.1 1.6v.3" fill="none" stroke="#b5b5b9" stroke-width="2" stroke-linecap="round"/><circle cx="10" cy="14.7" r="1.15" fill="#b5b5b9"/></svg>
<div class="t" style="left:161.3px;top:567.70px;font-size:16px;line-height:16px;color:#424242;font-weight:normal;font-family:'Liberation Mono', monospace;transform:scaleY(1.1);transform-origin:0 12px;-webkit-text-stroke:.15px #424242">Maegan</div>
<div class="t" style="left:434px;top:567.70px;font-size:16px;line-height:16px;color:#424242;font-weight:normal;font-family:'Liberation Mono', monospace;transform:scaleY(1.1);transform-origin:0 12px;-webkit-text-stroke:.15px #424242">Berge</div>
<div class="t" style="left:707px;top:567.70px;font-size:16px;line-height:16px;color:#424242;font-weight:normal;font-family:'Liberation Mono', monospace;transform:scaleY(1.1);transform-origin:0 12px;-webkit-text-stroke:.15px #424242">F</div>
<svg style="left:920.8px;top:565.25px" width="19" height="16.5" viewBox="0 0 19 16.5"><path d="M9.5 1.6 L17.6 15.3 L1.4 15.3 Z" fill="none" stroke="#d49b2a" stroke-width="2" stroke-linejoin="round"/><rect x="8.6" y="6.2700000000000005" width="1.8" height="4.62" fill="#d49b2a"/><rect x="8.6" y="11.879999999999999" width="1.8" height="1.6" fill="#d49b2a"/></svg>
<div class="t" style="left:979.3px;top:567.70px;font-size:16px;line-height:16px;color:#424242;font-weight:normal;font-family:'Liberation Mono', monospace;transform:scaleY(1.1);transform-origin:0 12px;-webkit-text-stroke:.15px #424242">Maegan_Berge63@yahoo.com</div>
<div class="t" style="left:1252.5px;top:567.70px;font-size:16px;line-height:16px;color:#424242;font-weight:normal;font-family:'Liberation Mono', monospace;transform:scaleY(1.1);transform-origin:0 12px;-webkit-text-stroke:.15px #424242">Reynholm Industries</div>
<svg style="left:1466.0px;top:565.25px" width="19" height="16.5" viewBox="0 0 19 16.5"><path d="M9.5 1.6 L17.6 15.3 L1.4 15.3 Z" fill="none" stroke="#d49b2a" stroke-width="2" stroke-linejoin="round"/><rect x="8.6" y="6.2700000000000005" width="1.8" height="4.62" fill="#d49b2a"/><rect x="8.6" y="11.879999999999999" width="1.8" height="1.6" fill="#d49b2a"/></svg>
<div class="t" style="left:1524.8px;top:567.70px;font-size:16px;line-height:16px;color:#424242;font-weight:normal;font-family:'Liberation Mono', monospace;transform:scaleY(1.1);transform-origin:0 12px;-webkit-text-stroke:.15px #424242">Data Quality</div>
<div class="r" style="left:7px;top:593.6px;width:1637px;height:40.9px;background:#fff"></div>
<div class="r" style="left:415px;top:593.6px;width:273px;height:40.9px;background:#f6f7f9"></div>
<div class="r" style="left:688px;top:593.6px;width:272px;height:40.9px;background:#fdf9ef"></div>
<div class="r" style="left:960px;top:593.6px;width:273px;height:40.9px;background:#fff"></div>
<div class="r" style="left:1233px;top:593.6px;width:273px;height:40.9px;background:#fdf9ef"></div>
<div class="r" style="left:1506px;top:593.6px;width:138px;height:40.9px;background:#fff"></div>
<div class="t" style="left:9px;top:607.06px;width:42px;text-align:center;font-size:16px;line-height:16px;color:#333;font-family:'Liberation Sans', sans-serif">9</div>
<svg style="left:71.8px;top:604.4px" width="20" height="20" viewBox="0 0 20 20"><circle cx="10" cy="10" r="9.1" fill="none" stroke="#b5b5b9" stroke-width="1.8"/><path d="M7.6 7.9a2.5 2.5 0 1 1 3.6 2.2c-.7.4-1.1.8-1.1 1.6v.3" fill="none" stroke="#b5b5b9" stroke-width="2" stroke-linecap="round"/><circle cx="10" cy="14.7" r="1.15" fill="#b5b5b9"/></svg>
<div class="t" style="left:161.3px;top:608.60px;font-size:16px;line-height:16px;color:#424242;font-weight:normal;font-family:'Liberation Mono', monospace;transform:scaleY(1.1);transform-origin:0 12px;-webkit-text-stroke:.15px #424242">Caroline</div>
<div class="t" style="left:434px;top:608.60px;font-size:16px;line-height:16px;color:#424242;font-weight:normal;font-family:'Liberation Mono', monospace;transform:scaleY(1.1);transform-origin:0 12px;-webkit-text-stroke:.15px #424242">McClureova</div>
<div class="t" style="left:707px;top:608.60px;font-size:16px;line-height:16px;color:#424242;font-weight:normal;font-family:'Liberation Mono', monospace;transform:scaleY(1.1);transform-origin:0 12px;-webkit-text-stroke:.15px #424242">F</div>
<svg style="left:920.8px;top:606.15px" width="19" height="16.5" viewBox="0 0 19 16.5"><path d="M9.5 1.6 L17.6 15.3 L1.4 15.3 Z" fill="none" stroke="#d49b2a" stroke-width="2" stroke-linejoin="round"/><rect x="8.6" y="6.2700000000000005" width="1.8" height="4.62" fill="#d49b2a"/><rect x="8.6" y="11.879999999999999" width="1.8" height="1.6" fill="#d49b2a"/></svg>
<div class="t" style="left:979.3px;top:608.60px;font-size:16px;line-height:16px;color:#424242;font-weight:normal;font-family:'Liberation Mono', monospace;transform:scaleY(1.1);transform-origin:0 12px;-webkit-text-stroke:.15px #424242">Carli.McClure87@yahoo.c…</div>
<div class="t" style="left:1252.5px;top:608.60px;font-size:16px;line-height:16px;color:#424242;font-weight:normal;font-family:'Liberation Mono', monospace;transform:scaleY(1.1);transform-origin:0 12px;-webkit-text-stroke:.15px #424242">ACME Corporation</div>
<svg style="left:1466.0px;top:606.15px" width="19" height="16.5" viewBox="0 0 19 16.5"><path d="M9.5 1.6 L17.6 15.3 L1.4 15.3 Z" fill="none" stroke="#d49b2a" stroke-width="2" stroke-linejoin="round"/><rect x="8.6" y="6.2700000000000005" width="1.8" height="4.62" fill="#d49b2a"/><rect x="8.6" y="11.879999999999999" width="1.8" height="1.6" fill="#d49b2a"/></svg>
<div class="t" style="left:1524.8px;top:608.60px;font-size:16px;line-height:16px;color:#424242;font-weight:normal;font-family:'Liberation Mono', monospace;transform:scaleY(1.1);transform-origin:0 12px;-webkit-text-stroke:.15px #424242">Lead Data Manager</div>
<div class="r" style="left:7px;top:634.5px;width:1637px;height:40.9px;background:#fff"></div>
<div class="r" style="left:415px;top:634.5px;width:273px;height:40.9px;background:#f6f7f9"></div>
<div class="r" style="left:688px;top:634.5px;width:272px;height:40.9px;background:#fdf9ef"></div>
<div class="r" style="left:960px;top:634.5px;width:273px;height:40.9px;background:#fff"></div>
<div class="r" style="left:1233px;top:634.5px;width:273px;height:40.9px;background:#fdf9ef"></div>
<div class="r" style="left:1506px;top:634.5px;width:138px;height:40.9px;background:#fdf9ef"></div>
<div class="t" style="left:9px;top:647.96px;width:42px;text-align:center;font-size:16px;line-height:16px;color:#333;font-family:'Liberation Sans', sans-serif">10</div>
<svg style="left:71.8px;top:645.3px" width="20" height="20" viewBox="0 0 20 20"><circle cx="10" cy="10" r="9.1" fill="none" stroke="#b5b5b9" stroke-width="1.8"/><path d="M7.6 7.9a2.5 2.5 0 1 1 3.6 2.2c-.7.4-1.1.8-1.1 1.6v.3" fill="none" stroke="#b5b5b9" stroke-width="2" stroke-linecap="round"/><circle cx="10" cy="14.7" r="1.15" fill="#b5b5b9"/></svg>
<div class="t" style="left:161.3px;top:649.50px;font-size:16px;line-height:16px;color:#424242;font-weight:normal;font-family:'Liberation Mono', monospace;transform:scaleY(1.1);transform-origin:0 12px;-webkit-text-stroke:.15px #424242">Zena</div>
<div class="t" style="left:434px;top:649.50px;font-size:16px;line-height:16px;color:#424242;font-weight:normal;font-family:'Liberation Mono', monospace;transform:scaleY(1.1);transform-origin:0 12px;-webkit-text-stroke:.15px #424242">Hahn</div>
<div class="t" style="left:707px;top:649.50px;font-size:16px;line-height:16px;color:#424242;font-weight:normal;font-family:'Liberation Mono', monospace;transform:scaleY(1.1);transform-origin:0 12px;-webkit-text-stroke:.15px #424242">F</div>
<svg style="left:920.8px;top:647.05px" width="19" height="16.5" viewBox="0 0 19 16.5"><path d="M9.5 1.6 L17.6 15.3 L1.4 15.3 Z" fill="none" stroke="#d49b2a" stroke-width="2" stroke-linejoin="round"/><rect x="8.6" y="6.2700000000000005" width="1.8" height="4.62" fill="#d49b2a"/><rect x="8.6" y="11.879999999999999" width="1.8" height="1.6" fill="#d49b2a"/></svg>
<div class="t" style="left:979.3px;top:649.50px;font-size:16px;line-height:16px;color:#424242;font-weight:normal;font-family:'Liberation Mono', monospace;transform:scaleY(1.1);transform-origin:0 12px;-webkit-text-stroke:.15px #424242">Zena.Hahn@hotmail.com</div>
<div class="t" style="left:1252.5px;top:649.50px;font-size:16px;line-height:16px;color:#424242;font-weight:normal;font-family:'Liberation Mono', monospace;transform:scaleY(1.1);transform-origin:0 12px;-webkit-text-stroke:.15px #424242">Wonka Industries</div>
<svg style="left:1466.0px;top:647.05px" width="19" height="16.5" viewBox="0 0 19 16.5"><path d="M9.5 1.6 L17.6 15.3 L1.4 15.3 Z" fill="none" stroke="#d49b2a" stroke-width="2" stroke-linejoin="round"/><rect x="8.6" y="6.2700000000000005" width="1.8" height="4.62" fill="#d49b2a"/><rect x="8.6" y="11.879999999999999" width="1.8" height="1.6" fill="#d49b2a"/></svg>
<div class="t" style="left:1524.8px;top:649.50px;font-size:16px;line-height:16px;color:#424242;font-weight:normal;font-family:'Liberation Mono', monospace;transform:scaleY(1.1);transform-origin:0 12px;-webkit-text-stroke:.15px #424242">Data Quality</div>
<div class="r" style="left:7px;top:675.4px;width:1637px;height:40.9px;background:#fff"></div>
<div class="r" style="left:415px;top:675.4px;width:273px;height:40.9px;background:#f6f7f9"></div>
<div class="r" style="left:688px;top:675.4px;width:272px;height:40.9px;background:#fcf1f0"></div>
<div class="r" style="left:960px;top:675.4px;width:273px;height:40.9px;background:#fff"></div>
<div class="r" style="left:1233px;top:675.4px;width:273px;height:40.9px;background:#fdf9ef"></div>
<div class="r" style="left:1506px;top:675.4px;width:138px;height:40.9px;background:#fff"></div>
<div class="t" style="left:9px;top:688.86px;width:42px;text-align:center;font-size:16px;line-height:16px;color:#333;font-family:'Liberation Sans', sans-serif">11</div>
<svg style="left:71.8px;top:686.1999999999999px" width="20" height="20" viewBox="0 0 20 20"><circle cx="10" cy="10" r="9.1" fill="none" stroke="#b5b5b9" stroke-width="1.8"/><path d="M7.6 7.9a2.5 2.5 0 1 1 3.6 2.2c-.7.4-1.1.8-1.1 1.6v.3" fill="none" stroke="#b5b5b9" stroke-width="2" stroke-linecap="round"/><circle cx="10" cy="14.7" r="1.15" fill="#b5b5b9"/></svg>
<div class="t" style="left:161.3px;top:690.40px;font-size:16px;line-height:16px;color:#424242;font-weight:normal;font-family:'Liberation Mono', monospace;transform:scaleY(1.1);transform-origin:0 12px;-webkit-text-stroke:.15px #424242">Anika</div>
<div class="t" style="left:434px;top:690.40px;font-size:16px;line-height:16px;color:#424242;font-weight:normal;font-family:'Liberation Mono', monospace;transform:scaleY(1.1);transform-origin:0 12px;-webkit-text-stroke:.15px #424242">Dooley</div>
<div class="t" style="left:707px;top:690.40px;font-size:16px;line-height:16px;color:#424242;font-weight:normal;font-family:'Liberation Mono', monospace;transform:scaleY(1.1);transform-origin:0 12px;-webkit-text-stroke:.15px #424242">FM</div>
<svg style="left:920.9px;top:686.5999999999999px" width="19" height="19" viewBox="0 0 19 19"><circle cx="9.5" cy="9.5" r="9.5" fill="#bb3325"/><rect x="8.2" y="4.1" width="2.6" height="6.4" rx="1.1" fill="#fff"/><circle cx="9.5" cy="13.3" r="1.3" fill="#fff"/></svg>
<div class="t" style="left:979.3px;top:690.40px;font-size:16px;line-height:16px;color:#424242;font-weight:normal;font-family:'Liberation Mono', monospace;transform:scaleY(1.1);transform-origin:0 12px;-webkit-text-stroke:.15px #424242">Anika74@yahoo.com</div>
<div class="t" style="left:1252.5px;top:690.40px;font-size:16px;line-height:16px;color:#424242;font-weight:normal;font-family:'Liberation Mono', monospace;transform:scaleY(1.1);transform-origin:0 12px;-webkit-text-stroke:.15px #424242">Reynholm Industries</div>
<svg style="left:1466.0px;top:687.9499999999999px" width="19" height="16.5" viewBox="0 0 19 16.5"><path d="M9.5 1.6 L17.6 15.3 L1.4 15.3 Z" fill="none" stroke="#d49b2a" stroke-width="2" stroke-linejoin="round"/><rect x="8.6" y="6.2700000000000005" width="1.8" height="4.62" fill="#d49b2a"/><rect x="8.6" y="11.879999999999999" width="1.8" height="1.6" fill="#d49b2a"/></svg>
<div class="t" style="left:1524.8px;top:690.40px;font-size:16px;line-height:16px;color:#424242;font-weight:normal;font-family:'Liberation Mono', monospace;transform:scaleY(1.1);transform-origin:0 12px;-webkit-text-stroke:.15px #424242">Master Data Manager</div>
<div class="r" style="left:7px;top:716.3px;width:1637px;height:40.9px;background:#fff"></div>
<div class="r" style="left:415px;top:716.3px;width:273px;height:40.9px;background:#f6f7f9"></div>
<div class="r" style="left:688px;top:716.3px;width:272px;height:40.9px;background:#fdf9ef"></div>
<div class="r" style="left:960px;top:716.3px;width:273px;height:40.9px;background:#fff"></div>
<div class="r" style="left:1233px;top:716.3px;width:273px;height:40.9px;background:#fdf9ef"></div>
<div class="r" style="left:1506px;top:716.3px;width:138px;height:40.9px;background:#fdf9ef"></div>
<div class="t" style="left:9px;top:729.76px;width:42px;text-align:center;font-size:16px;line-height:16px;color:#333;font-family:'Liberation Sans', sans-serif">12</div>
<svg style="left:71.8px;top:727.0999999999999px" width="20" height="20" viewBox="0 0 20 20"><circle cx="10" cy="10" r="9.1" fill="none" stroke="#b5b5b9" stroke-width="1.8"/><path d="M7.6 7.9a2.5 2.5 0 1 1 3.6 2.2c-.7.4-1.1.8-1.1 1.6v.3" fill="none" stroke="#b5b5b9" stroke-width="2" stroke-linecap="round"/><circle cx="10" cy="14.7" r="1.15" fill="#b5b5b9"/></svg>
<div class="t" style="left:161.3px;top:731.30px;font-size:16px;line-height:16px;color:#424242;font-weight:normal;font-family:'Liberation Mono', monospace;transform:scaleY(1.1);transform-origin:0 12px;-webkit-text-stroke:.15px #424242">Alberto</div>
<div class="t" style="left:434px;top:731.30px;font-size:16px;line-height:16px;color:#424242;font-weight:normal;font-family:'Liberation Mono', monospace;transform:scaleY(1.1);transform-origin:0 12px;-webkit-text-stroke:.15px #424242">Beatty</div>
<div class="t" style="left:707px;top:731.30px;font-size:16px;line-height:16px;color:#424242;font-weight:normal;font-family:'Liberation Mono', monospace;transform:scaleY(1.1);transform-origin:0 12px;-webkit-text-stroke:.15px #424242">M</div>
<svg style="left:920.8px;top:728.8499999999999px" width="19" height="16.5" viewBox="0 0 19 16.5"><path d="M9.5 1.6 L17.6 15.3 L1.4 15.3 Z" fill="none" stroke="#d49b2a" stroke-width="2" stroke-linejoin="round"/><rect x="8.6" y="6.2700000000000005" width="1.8" height="4.62" fill="#d49b2a"/><rect x="8.6" y="11.879999999999999" width="1.8" height="1.6" fill="#d49b2a"/></svg>
<div class="t" style="left:979.3px;top:731.30px;font-size:16px;line-height:16px;color:#424242;font-weight:normal;font-family:'Liberation Mono', monospace;transform:scaleY(1.1);transform-origin:0 12px;-webkit-text-stroke:.15px #424242">Alberto.Beatty@yahoo.com</div>
<div class="t" style="left:1252.5px;top:731.30px;font-size:16px;line-height:16px;color:#424242;font-weight:normal;font-family:'Liberation Mono', monospace;transform:scaleY(1.1);transform-origin:0 12px;-webkit-text-stroke:.15px #424242">Dunder Mifflin</div>
<svg style="left:1466.0px;top:728.8499999999999px" width="19" height="16.5" viewBox="0 0 19 16.5"><path d="M9.5 1.6 L17.6 15.3 L1.4 15.3 Z" fill="none" stroke="#d49b2a" stroke-width="2" stroke-linejoin="round"/><rect x="8.6" y="6.2700000000000005" width="1.8" height="4.62" fill="#d49b2a"/><rect x="8.6" y="11.879999999999999" width="1.8" height="1.6" fill="#d49b2a"/></svg>
<div class="t" style="left:1524.8px;top:731.30px;font-size:16px;line-height:16px;color:#424242;font-weight:normal;font-family:'Liberation Mono', monospace;transform:scaleY(1.1);transform-origin:0 12px;-webkit-text-stroke:.15px #424242">Enterprise Team</div>
<div class="r" style="left:7px;top:757.2px;width:1637px;height:40.9px;background:#fff"></div>
<div class="r" style="left:415px;top:757.2px;width:273px;height:40.9px;background:#f6f7f9"></div>
<div class="r" style="left:688px;top:757.2px;width:272px;height:40.9px;background:#fdf9ef"></div>
<div class="r" style="left:960px;top:757.2px;width:273px;height:40.9px;background:#fcf1f0"></div>
<div class="r" style="left:1233px;top:757.2px;width:273px;height:40.9px;background:#fdf9ef"></div>
<div class="r" style="left:1506px;top:757.2px;width:138px;height:40.9px;background:#fdf9ef"></div>
<div class="t" style="left:9px;top:770.66px;width:42px;text-align:center;font-size:16px;line-height:16px;color:#333;font-family:'Liberation Sans', sans-serif">13</div>
<svg style="left:71.8px;top:768.0px" width="20" height="20" viewBox="0 0 20 20"><circle cx="10" cy="10" r="9.1" fill="none" stroke="#b5b5b9" stroke-width="1.8"/><path d="M7.6 7.9a2.5 2.5 0 1 1 3.6 2.2c-.7.4-1.1.8-1.1 1.6v.3" fill="none" stroke="#b5b5b9" stroke-width="2" stroke-linecap="round"/><circle cx="10" cy="14.7" r="1.15" fill="#b5b5b9"/></svg>
<div class="t" style="left:161.3px;top:772.20px;font-size:16px;line-height:16px;color:#424242;font-weight:normal;font-family:'Liberation Mono', monospace;transform:scaleY(1.1);transform-origin:0 12px;-webkit-text-stroke:.15px #424242">Charley</div>
<div class="t" style="left:434px;top:772.20px;font-size:16px;line-height:16px;color:#424242;font-weight:normal;font-family:'Liberation Mono', monospace;transform:scaleY(1.1);transform-origin:0 12px;-webkit-text-stroke:.15px #424242">Trantow</div>
<div class="t" style="left:707px;top:772.20px;font-size:16px;line-height:16px;color:#424242;font-weight:normal;font-family:'Liberation Mono', monospace;transform:scaleY(1.1);transform-origin:0 12px;-webkit-text-stroke:.15px #424242">M</div>
<svg style="left:920.8px;top:769.75px" width="19" height="16.5" viewBox="0 0 19 16.5"><path d="M9.5 1.6 L17.6 15.3 L1.4 15.3 Z" fill="none" stroke="#d49b2a" stroke-width="2" stroke-linejoin="round"/><rect x="8.6" y="6.2700000000000005" width="1.8" height="4.62" fill="#d49b2a"/><rect x="8.6" y="11.879999999999999" width="1.8" height="1.6" fill="#d49b2a"/></svg>
<div class="t" style="left:979.3px;top:772.20px;font-size:16px;line-height:16px;color:#424242;font-weight:normal;font-family:'Liberation Mono', monospace;transform:scaleY(1.1);transform-origin:0 12px;-webkit-text-stroke:.15px #424242"></div>
<svg style="left:1193.5px;top:768.4px" width="19" height="19" viewBox="0 0 19 19"><circle cx="9.5" cy="9.5" r="9.5" fill="#bb3325"/><rect x="8.2" y="4.1" width="2.6" height="6.4" rx="1.1" fill="#fff"/><circle cx="9.5" cy="13.3" r="1.3" fill="#fff"/></svg>
<div class="t" style="left:1252.5px;top:772.20px;font-size:16px;line-height:16px;color:#424242;font-weight:normal;font-family:'Liberation Mono', monospace;transform:scaleY(1.1);transform-origin:0 12px;-webkit-text-stroke:.15px #424242">Duff Beer</div>
<svg style="left:1466.0px;top:769.75px" width="19" height="16.5" viewBox="0 0 19 16.5"><path d="M9.5 1.6 L17.6 15.3 L1.4 15.3 Z" fill="none" stroke="#d49b2a" stroke-width="2" stroke-linejoin="round"/><rect x="8.6" y="6.2700000000000005" width="1.8" height="4.62" fill="#d49b2a"/><rect x="8.6" y="11.879999999999999" width="1.8" height="1.6" fill="#d49b2a"/></svg>
<div class="t" style="left:1524.8px;top:772.20px;font-size:16px;line-height:16px;color:#424242;font-weight:normal;font-family:'Liberation Mono', monospace;transform:scaleY(1.1);transform-origin:0 12px;-webkit-text-stroke:.15px #424242">Investor</div>
<div class="r" style="left:7px;top:306.7px;width:1637px;height:1px;background:#e9ecee"></div>
<div class="r" style="left:7px;top:347.6px;width:1637px;height:1px;background:#e9ecee"></div>
<div class="r" style="left:7px;top:388.5px;width:1637px;height:1px;background:#e9ecee"></div>
<div class="r" style="left:7px;top:429.4px;width:1637px;height:1px;background:#e9ecee"></div>
<div class="r" style="left:7px;top:470.3px;width:1637px;height:1px;background:#e9ecee"></div>
<div class="r" style="left:7px;top:511.2px;width:1637px;height:1px;background:#e9ecee"></div>
<div class="r" style="left:7px;top:552.1px;width:1637px;height:1px;background:#e9ecee"></div>
<div class="r" style="left:7px;top:593.0px;width:1637px;height:1px;background:#e9ecee"></div>
<div class="r" style="left:7px;top:633.9px;width:1637px;height:1px;background:#e9ecee"></div>
<div class="r" style="left:7px;top:674.8px;width:1637px;height:1px;background:#e9ecee"></div>
<div class="r" style="left:7px;top:715.7px;width:1637px;height:1px;background:#e9ecee"></div>
<div class="r" style="left:7px;top:756.6px;width:1637px;height:1px;background:#e9ecee"></div>
<div class="r" style="left:7px;top:797.5px;width:1637px;height:1px;background:#e9ecee"></div>
<div class="r" style="left:415px;top:185px;width:1px;height:600px;background:#e9ecee"></div>
<div class="r" style="left:688px;top:185px;width:1px;height:600px;background:#e9ecee"></div>
<div class="r" style="left:960px;top:185px;width:1px;height:600px;background:#e9ecee"></div>
<div class="r" style="left:1233px;top:185px;width:1px;height:600px;background:#e9ecee"></div>
<div class="r" style="left:1506px;top:185px;width:1px;height:600px;background:#e9ecee"></div>
</div>
<div class="r" style="left:9px;top:308px;width:45px;height:41px;border:3px solid #b3c5f6"></div>
<div class="r" style="left:9px;top:267px;width:3.5px;height:40px;background:#b3c5f6"></div>
<div class="r" style="left:1644px;top:185px;width:12px;height:600px;background:#f7f8fa"></div>
<div class="r" style="left:1648px;top:189px;width:8px;height:77px;background:#c4c4c4;border-radius:4px"></div>
<div class="r" style="left:7px;top:790px;width:1649px;height:56px;background:linear-gradient(#2e55e6,#2d52e2 60%,#2a4dd8);border-bottom-right-radius:6px"></div>
<div class="r" style="left:7px;top:846px;width:1649px;height:2px;background:#c9d3f3"></div>
<div class="r" style="left:34.7px;top:798px;width:184.3px;height:40px;background:rgba(255,255,255,.13);border-radius:5px"></div>
<div class="t" style="left:93.6px;top:811.16px;font-size:15.8px;line-height:15.8px;color:#fff;font-weight:normal;font-family:'Liberation Sans', sans-serif;-webkit-text-stroke:.3px #fff">Clear Selection</div>
<svg style="left:52px;top:806px" width="23" height="23" viewBox="0 0 23 23"><circle cx="11.4" cy="11.3" r="10.1" fill="none" stroke="#fff" stroke-width="2.2"/><path d="M8.9 8.8l5 5M13.9 8.8l-5 5" stroke="#fff" stroke-width="2.4" stroke-linecap="round"/></svg>
<div class="t" style="left:246px;top:811.00px;font-size:16px;line-height:16px;color:#dfe6fb;font-weight:normal;font-family:'Liberation Sans', sans-serif;">2 records selected</div>
<div class="r" style="left:1095px;top:798px;width:196.5px;height:40px;background:rgba(255,255,255,.13);border-radius:5px"></div>
<div class="t" style="left:1141px;top:811.16px;font-size:15.8px;line-height:15.8px;color:#fff;font-weight:normal;font-family:'Liberation Sans', sans-serif;-webkit-text-stroke:.3px #fff">Compare or merge</div>
<svg style="left:1100px;top:800px" width="40" height="36" viewBox="0 0 40 36"><g fill="none" stroke="#fff" stroke-width="2.1" stroke-linecap="round" stroke-linejoin="round"><path d="M11.5 12.6L28.3 14.6"/><path d="M20.1 11v17.6"/><path d="M16.5 28.7h7.6"/><path d="M12.7 15.2C10.5 18.5 9.8 19.8 9.8 21.2A2.9 2.9 0 0 0 15.6 21.2C15.6 19.8 14.9 18.5 12.7 15.2Z"/><path d="M27.6 17.4C25.4 20.7 24.7 22 24.7 23.4A2.9 2.9 0 0 0 30.5 23.4C30.5 22 29.8 20.7 27.6 17.4Z"/></g><circle cx="20.1" cy="9.3" r="2.2" fill="#fff"/></svg>
<div class="r" style="left:1310px;top:798px;width:125px;height:40px;background:rgba(255,255,255,.13);border-radius:5px"></div>
<div class="t" style="left:1355px;top:811.16px;font-size:15.8px;line-height:15.8px;color:#fff;font-weight:normal;font-family:'Liberation Sans', sans-serif;-webkit-text-stroke:.3px #fff">Bulk edit</div>
<svg style="left:1316px;top:800px" width="40" height="36" viewBox="0 0 40 36"><g fill="none" stroke="#fff" stroke-width="2.4" stroke-linejoin="round"><path d="M12.6 20.9H9.6V9.5H19.1V12.4"/><path d="M19.8 16.8H17V27.7H25.6V22.4"/><path d="M21.6 10.6H25.6V15.5"/></g><path d="M22.3 15.3H28.9L25.6 19.6Z" fill="#fff"/></svg>
<div class="r" style="left:1453.5px;top:798px;width:179.5px;height:40px;background:rgba(255,255,255,.13);border-radius:5px"></div>
<div class="t" style="left:1499px;top:811.16px;font-size:15.8px;line-height:15.8px;color:#fff;font-weight:normal;font-family:'Liberation Sans', sans-serif;-webkit-text-stroke:.3px #fff">Delete 2 records</div>
<svg style="left:1460px;top:800px" width="40" height="36" viewBox="0 0 40 36"><path d="M10.6 12.8C10.6 11.3 12 10.6 15 10.4C15.8 9.6 17 9.2 18.4 9.2C19.8 9.2 21 9.6 21.8 10.4C24.8 10.6 26.2 11.3 26.2 12.8Z" fill="#fff"/><path d="M12.6 15.1H24.6L22.9 26.6H14.3Z" fill="none" stroke="#fff" stroke-width="2.3" stroke-linejoin="round"/></svg>
<div class="r" style="left:0px;top:0px;width:4px;height:852px;background:#000"></div>
<div class="r" style="left:4px;top:0;width:3px;height:848px;background:linear-gradient(#553f7e,#5a3d7a 25%,#6a3a6e 50%,#7a3565 70%,#7a2d55)"></div>
<div class="r" style="left:4px;top:0;width:1px;height:848px;background:rgba(255,255,255,.18)"></div>
<div class="r" style="left:0px;top:848px;width:1656px;height:4px;background:#000"></div>
<div class="r" style="left:1px;top:179px;width:58px;height:167px;border:8px solid #5a3e9e;border-radius:9px"></div>
<div class="r" style="left:1075px;top:786px;width:233px;height:64px;border:7px solid #d4006f;border-radius:9px"></div></body></html>
